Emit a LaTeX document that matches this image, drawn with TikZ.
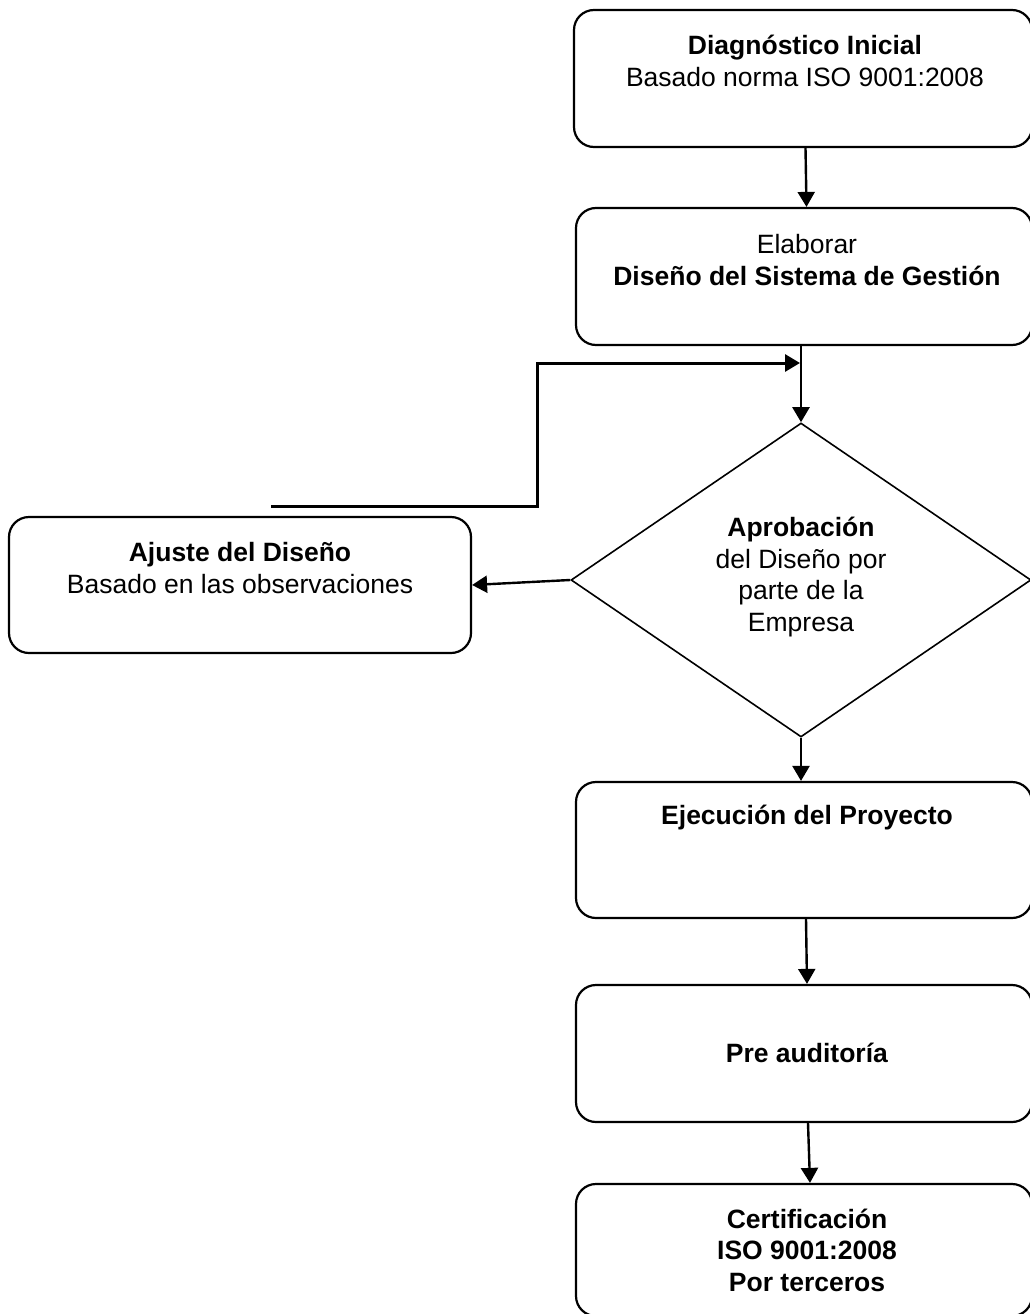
\documentclass[tikz,border=0pt]{standalone}
\usepackage{fontspec}
\setmainfont{Liberation Sans}
\usetikzlibrary{shapes.geometric,arrows.meta}
\begin{document}
\begin{tikzpicture}[x=1pt,y=-1pt,
  box/.style={draw,line width=2.2pt,rounded corners=20pt,inner sep=0pt},
  dia/.style={draw,diamond,line width=1.6pt,inner sep=0pt,minimum width=460pt,minimum height=314pt},
  txt/.style={align=center,inner sep=0pt,font=\fontsize{26.5}{31.5}\selectfont},
  arr/.style={line width=2.4pt,-{Triangle[length=15pt,width=17pt]}},
  fb/.style={line width=3pt,-{Triangle[length=15pt,width=17pt]}}]
\useasboundingbox (0,0) rectangle (1030,1314);
% boxes
\node[box,minimum width=458pt,minimum height=137pt] (b1) at (803,78.5) {};
\node[box,minimum width=456pt,minimum height=137pt] (b2) at (804,276.5) {};
\node[dia] (d) at (801,580) {};
\node[box,minimum width=462pt,minimum height=136pt] (aj) at (240,585) {};
\node[box,minimum width=456pt,minimum height=136pt] (ej) at (804,850) {};
\node[box,minimum width=456pt,minimum height=137pt] (pr) at (804,1053.5) {};
\node[box,minimum width=456pt,minimum height=132pt] (ce) at (804,1250) {};
% texts
\node[txt] (t1) at (805,61) {\textbf{Diagnóstico Inicial}\\Basado norma ISO 9001:2008};
\node[txt] (t2) at (807,260) {Elaborar\\\textbf{Diseño del Sistema de Gestión}};
\node[txt] (td) at (801,577) {\textbf{Aprobación}\\del Diseño por\\parte de la\\Empresa};
\node[txt] (ta) at (240,568) {\textbf{Ajuste del Diseño}\\Basado en las observaciones};
\node[txt] (te) at (807,818) {\textbf{Ejecución del Proyecto}};
\node[txt] (tp) at (807,1053) {\textbf{Pre auditoría}};
\node[txt] (tc) at (807,1250) {\textbf{Certificación}\\\textbf{ISO 9001:2008}\\\textbf{Por terceros}};
% connectors
\draw[arr] ([xshift=2.5pt]b1.south) -- ([xshift=2.5pt]b2.north);
\draw[arr] ([xshift=-3pt]b2.south) -- (d.north);
\coordinate (fbs) at (271,506);
\coordinate (fbc1) at (537,506);
\coordinate (fbc2) at (537,363);
\coordinate (fbe) at (800,363);
\draw[fb] (fbs) -- (fbc1) -- (fbc2) -- (fbe);
\draw[arr] (d.west) -- (aj.east);
\draw[arr] (d.south) -- (ej.north -| d.south);
\draw[arr] ([xshift=2pt]ej.south) -- ([xshift=3pt]pr.north);
\draw[arr] ([xshift=4pt]pr.south) -- ([xshift=6pt]ce.north);
\end{tikzpicture}
\end{document}
